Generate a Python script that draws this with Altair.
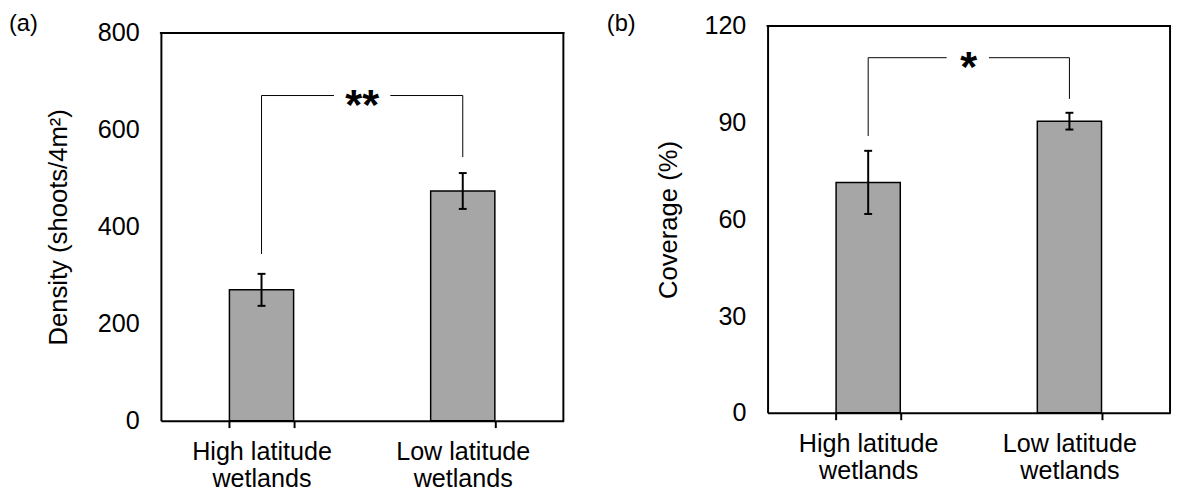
import altair as alt
import pandas as pd

sites = ["High latitude wetlands", "Low latitude wetlands"]
site_pos = [0.5, 1.5]  # site centres on a 0-2 site-index axis used by the brackets

density_mean = [270, 474]
density_err = [33, 37]
coverage_mean = [71.5, 90.5]
coverage_err = [9.8, 2.6]

# significance brackets: bar height, lower ends at each site, gap left for the stars
density_bracket_y = 671
density_bracket_ends = [344, 544]
density_bracket_gap = [0.86, 1.14]
coverage_bracket_y = 110.2
coverage_bracket_ends = [85.9, 97.4]
coverage_bracket_gap = [0.89, 1.10]

FONT = "Liberation Sans"
W = 408


def panel(means, errs, ymax, ystep, ytitle, tpad, tag, stars, by, bends, bgap,
          height, top_gap, tag_x, tag_y):
    df = pd.DataFrame({
        "site": sites,
        "mean": means,
        "lo": [m - e for m, e in zip(means, errs)],
        "hi": [m + e for m, e in zip(means, errs)],
    })
    yscale = alt.Scale(domain=[0, ymax], nice=False, range=[height, top_gap])
    yaxis = alt.Axis(values=list(range(0, ymax + 1, ystep)), ticks=False,
                     labelPadding=22, titlePadding=tpad, grid=False)
    xband = alt.X("site:N", sort=sites,
                  scale=alt.Scale(paddingInner=0.681, paddingOuter=0.3405),
                  axis=alt.Axis(title=None, labelAngle=0, tickBand="extent",
                                labelPadding=12, labelLineHeight=28,
                                labelExpr="datum.label ? [replace(datum.label, ' wetlands', ''), 'wetlands'] : ''"))
    base = alt.Chart(df)
    bars = base.mark_bar(color="#a6a6a6", stroke="black", strokeWidth=1.5).encode(
        x=xband, y=alt.Y("mean:Q", scale=yscale, axis=yaxis, title=ytitle))
    err = base.mark_rule(color="black", strokeWidth=2).encode(
        x=alt.X("site:N", sort=sites), y=alt.Y("lo:Q", title=ytitle), y2="hi:Q")
    cap_lo = base.mark_tick(color="black", thickness=2, size=8, opacity=1).encode(
        x=alt.X("site:N", sort=sites), y=alt.Y("lo:Q", title=ytitle))
    cap_hi = base.mark_tick(color="black", thickness=2, size=8, opacity=1).encode(
        x=alt.X("site:N", sort=sites), y=alt.Y("hi:Q", title=ytitle))

    # plot frame (top and right edges) drawn through the y scale
    fdf = pd.DataFrame({"lo": [0], "top": [ymax]})
    frame_top = alt.Chart(fdf).mark_rule(color="black", strokeWidth=2, strokeCap="square").encode(
        x=alt.value(0), x2=alt.value(W), y=alt.Y("top:Q", title=ytitle))
    frame_right = alt.Chart(fdf).mark_rule(color="black", strokeWidth=2, strokeCap="square").encode(
        x=alt.value(W), y=alt.Y("lo:Q", title=ytitle), y2="top:Q")

    bdf = pd.DataFrame({
        "x": [site_pos[0], site_pos[0], bgap[1], site_pos[1]],
        "x2": [site_pos[0], bgap[0], site_pos[1], site_pos[1]],
        "y": [bends[0], by, by, bends[1]],
        "y2": [by, by, by, by],
    })
    qx = alt.Scale(domain=[0, 2], nice=False, zero=False)
    brackets = alt.Chart(bdf).mark_rule(color="black", strokeWidth=1).encode(
        x=alt.X("x:Q", scale=qx, axis=None), x2="x2:Q",
        y=alt.Y("y:Q", title=ytitle), y2="y2:Q")
    sdf = pd.DataFrame({"x": [sum(site_pos) / 2], "y": [by], "t": [stars]})
    star_txt = alt.Chart(sdf).mark_text(font=FONT, fontSize=44, fontWeight="bold",
                                        baseline="alphabetic", dy=24, color="black").encode(
        x=alt.X("x:Q", scale=qx, axis=None), y=alt.Y("y:Q", title=ytitle), text="t:N")

    tdf = pd.DataFrame({"t": [tag]})
    tag_txt = alt.Chart(tdf).mark_text(font=FONT, fontSize=24, align="left",
                                       baseline="alphabetic", color="black").encode(
        x=alt.value(tag_x), y=alt.value(tag_y), text="t:N")

    return alt.layer(
        alt.layer(bars, err, cap_lo, cap_hi, frame_top, frame_right),
        alt.layer(brackets, star_txt),
        tag_txt,
    ).resolve_scale(x="independent").properties(
        width=W, height=height, view=alt.ViewBackground(stroke="transparent"))


pa = panel(density_mean, density_err, 800, 200, "Density (shoots/4m²)", 26, "(a)", "**",
           density_bracket_y, density_bracket_ends, density_bracket_gap, 400, 7, -154, 5)
pb = panel(coverage_mean, coverage_err, 120, 30, "Coverage (%)", 23, "(b)", "*",
           coverage_bracket_y, coverage_bracket_ends, coverage_bracket_gap, 392, 0, -163, 5)

chart = alt.hconcat(pa, pb, spacing=40).properties(
    padding=0
).configure_view(stroke="black", strokeWidth=2).configure_axis(
    labelFont=FONT, titleFont=FONT, labelFontSize=25.5, titleFontSize=26,
    labelColor="black", titleColor="black", titleFontWeight="normal",
    domainColor="black", domainWidth=2, tickColor="black", tickWidth=2, tickSize=7,
)

chart.save("out.html", embed_options={"renderer": "svg", "actions": False})
